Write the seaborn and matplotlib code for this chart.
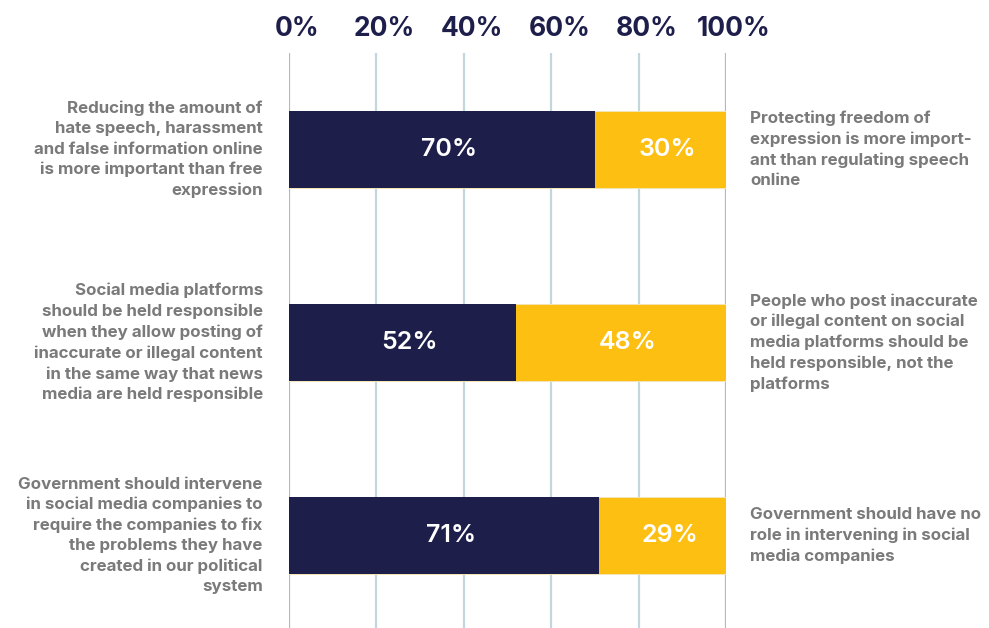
import matplotlib
matplotlib.use("Agg")
import matplotlib.pyplot as plt
import matplotlib.transforms as mtransforms
import seaborn as sns
import pandas as pd

left_labels = [
    "Reducing the amount of\nhate speech, harassment\nand false information online\nis more important than free\nexpression",
    "Social media platforms\nshould be held responsible\nwhen they allow posting of\ninaccurate or illegal content\nin the same way that news\nmedia are held responsible",
    "Government should intervene\nin social media companies to\nrequire the companies to fix\nthe problems they have\ncreated in our political\nsystem",
]
right_labels = [
    "Protecting freedom of\nexpression is more import-\nant than regulating speech\nonline",
    "People who post inaccurate\nor illegal content on social\nmedia platforms should be\nheld responsible, not the\nplatforms",
    "Government should have no\nrole in intervening in social\nmedia companies",
]
agree = [70, 52, 71]
disagree = [30, 48, 29]
ticks = [0, 20, 40, 60, 80, 100]
tick_labels = ["0%", "20%", "40%", "60%", "80%", "100%"]

NAVY = "#1e1e4b"
YELLOW = "#fdbf12"
GRAY = "#7a7a7a"

sns.set_theme(style="white")
plt.rcParams["font.family"] = ["Inter", "DejaVu Sans"]

df = pd.DataFrame({
    "item": [f"q{i}" for i in range(len(agree))],
    "agree": agree,
    "total": [a + d for a, d in zip(agree, disagree)],
})

fig = plt.figure(figsize=(9.89, 6.28), dpi=100)
ax = fig.add_axes([289 / 989, 1 - 632 / 628, 437 / 989, 579 / 628])

sns.barplot(data=df, y="item", x="total", color=YELLOW, orient="h", width=0.4,
            ax=ax, saturation=1, edgecolor="#f2e6c0", linewidth=0.6, zorder=3)
sns.barplot(data=df, y="item", x="agree", color=NAVY, orient="h", width=0.4,
            ax=ax, saturation=1, linewidth=0, zorder=4)

ax.set_xlim(0, 100)
ax.set_ylim(2.5, -0.5)
for t in ticks:
    c = "#b5b9bb" if t in (0, 100) else "#c2d7dc"
    ax.axvline(t, color=c, lw=1.6, zorder=1)

for s in ax.spines.values():
    s.set_visible(False)

ax.xaxis.tick_top()
ax.set_xticks(ticks)
ax.set_xticklabels(tick_labels, fontsize=19, fontweight="bold", color=NAVY)
ax.tick_params(axis="x", length=0, pad=8)
offset = mtransforms.ScaledTranslation(8 / 100, 0, fig.dpi_scale_trans)
for lbl in ax.get_xticklabels():
    lbl.set_transform(lbl.get_transform() + offset)
ax.set_yticks([])
ax.set_xlabel("")
ax.set_ylabel("")

val_tf = ax.transData + mtransforms.ScaledTranslation(7 / 100, 0, fig.dpi_scale_trans)
for i, (a, d) in enumerate(zip(agree, disagree)):
    ax.text(a / 2, i, f"{a}%", ha="center", va="center", color="white",
            fontsize=18, fontweight="semibold", zorder=5, transform=val_tf)
    ax.text(a + d / 2, i, f"{d}%", ha="center", va="center", color="white",
            fontsize=18, fontweight="semibold", zorder=5, transform=val_tf)
    ax.text(-6, i, left_labels[i], ha="right", va="center", color=GRAY,
            fontsize=12.2, fontweight="bold", linespacing=1.43, zorder=5)
    ax.text(105.5, i, right_labels[i], ha="left", va="center", color=GRAY,
            fontsize=12.2, fontweight="bold", linespacing=1.43, zorder=5)

fig.savefig("out.png", dpi=100)
